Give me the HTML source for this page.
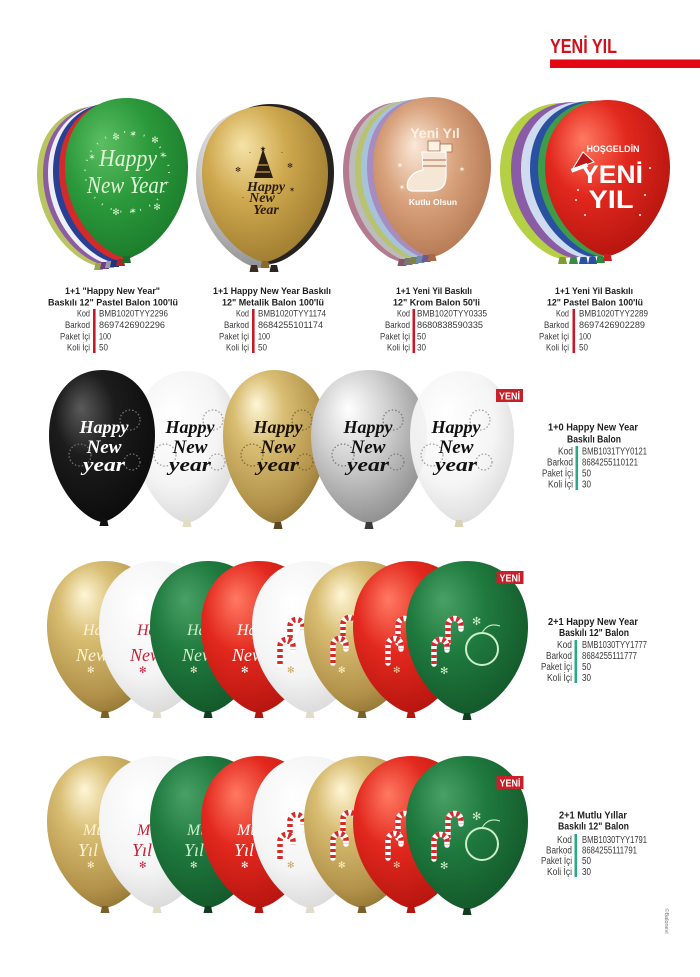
<!DOCTYPE html>
<html><head><meta charset="utf-8">
<style>
html,body{margin:0;padding:0;background:#fff;}
svg{display:block;}
.t{font-family:"Liberation Sans",sans-serif;font-weight:bold;font-size:9.5px;fill:#1e1e1e;}
.l{font-family:"Liberation Sans",sans-serif;font-size:9.5px;fill:#3a3a3a;}
.t2{font-family:"Liberation Sans",sans-serif;font-weight:bold;font-size:10px;fill:#1e1e1e;}
.l2{font-family:"Liberation Sans",sans-serif;font-size:10px;fill:#3a3a3a;}
.s{font-family:"Liberation Serif",serif;font-style:italic;}
.sb{font-family:"Liberation Serif",serif;font-style:italic;font-weight:bold;}
.bd{font-family:"Liberation Sans",sans-serif;font-weight:bold;}
.dj{font-family:"DejaVu Sans",sans-serif;}
</style></head><body>
<svg width="700" height="977" viewBox="0 0 700 977" xmlns="http://www.w3.org/2000/svg">
<defs>
<path id="b" d="M50,130 C32,128 0,98 0,56 C0,21 22,0 50,0 C78,0 100,21 100,56 C100,98 68,128 50,130 Z"/>
<path id="k" d="M-3,0 L3,0 L4.5,7 L-4.5,7 Z"/>
<g id="cane">
<path d="M0,26 L0,8 A6.5,6.5 0 0 1 13,8 L13,12" fill="none" stroke="#fff" stroke-width="5.5" stroke-linecap="round"/>
<path d="M0,26 L0,8 A6.5,6.5 0 0 1 13,8 L13,12" fill="none" stroke="#d42a2a" stroke-width="5.5" stroke-dasharray="3 3"/>
</g>
<radialGradient id="gG1" cx=".4" cy=".35" r=".7" fx=".3" fy=".28"><stop offset="0" stop-color="#5cbf62"/><stop offset=".5" stop-color="#2b993b"/><stop offset="1" stop-color="#1b7a2b"/></radialGradient>
<radialGradient id="gGD" cx=".4" cy=".35" r=".7" fx=".3" fy=".25"><stop offset="0" stop-color="#4aa066"/><stop offset=".45" stop-color="#1f7a3e"/><stop offset="1" stop-color="#135629"/></radialGradient>
<radialGradient id="gR" cx=".4" cy=".35" r=".7" fx=".3" fy=".25"><stop offset="0" stop-color="#ff7a62"/><stop offset=".45" stop-color="#e2281e"/><stop offset="1" stop-color="#b3140e"/></radialGradient>
<radialGradient id="gAu" cx=".4" cy=".35" r=".7" fx=".32" fy=".25"><stop offset="0" stop-color="#f6e3a8"/><stop offset=".45" stop-color="#cfa94f"/><stop offset="1" stop-color="#9c7a2e"/></radialGradient>
<radialGradient id="gAuC" cx=".4" cy=".35" r=".7" fx=".32" fy=".22"><stop offset="0" stop-color="#fff6d6"/><stop offset=".35" stop-color="#d8bd72"/><stop offset=".8" stop-color="#b2924a"/><stop offset="1" stop-color="#8f7232"/></radialGradient>
<radialGradient id="gW" cx=".42" cy=".38" r=".7" fx=".35" fy=".28"><stop offset="0" stop-color="#ffffff"/><stop offset=".6" stop-color="#f4f4f4"/><stop offset="1" stop-color="#d4d4d4"/></radialGradient>
<radialGradient id="gS" cx=".4" cy=".35" r=".7" fx=".32" fy=".25"><stop offset="0" stop-color="#ffffff"/><stop offset=".45" stop-color="#cfcfcf"/><stop offset="1" stop-color="#8a8a8a"/></radialGradient>
<radialGradient id="gK" cx=".4" cy=".35" r=".7" fx=".3" fy=".25"><stop offset="0" stop-color="#5a5a5a"/><stop offset=".4" stop-color="#1c1c1c"/><stop offset="1" stop-color="#0b0b0b"/></radialGradient>
<radialGradient id="gRo" cx=".45" cy=".45" r=".7" fx=".35" fy=".3"><stop offset="0" stop-color="#fbe8d8"/><stop offset=".45" stop-color="#d8a27c"/><stop offset="1" stop-color="#a86a45"/></radialGradient>
</defs>

<rect width="700" height="977" fill="#fff"/>

<!-- header -->
<text class="bd" x="550" y="53" font-size="20" fill="#d0101a" textLength="67" lengthAdjust="spacingAndGlyphs">YENİ YIL</text>
<rect x="550" y="59.5" width="150" height="8.5" fill="#e30613"/>

<!-- ROW 1 col1 green stack -->
<use href="#b" transform="translate(37,106) scale(1.23,1.23)" fill="#b9c462"/>
<use href="#b" transform="translate(43,105) scale(1.23,1.23)" fill="#8c5ca3"/>
<use href="#b" transform="translate(48,104) scale(1.23,1.23)" fill="#eeeef5"/>
<use href="#b" transform="translate(53,102.5) scale(1.23,1.23)" fill="#283f95"/>
<use href="#b" transform="translate(59,101) scale(1.23,1.23)" fill="#d22b2b"/>
<use href="#b" transform="translate(65,98) scale(1.23,1.23)" fill="url(#gG1)"/>
<use href="#k" x="98.5" y="263" fill="#9aa84a"/>
<use href="#k" x="104.5" y="262" fill="#6e3f88"/>
<use href="#k" x="109.5" y="261" fill="#9a9aaa"/>
<use href="#k" x="114.5" y="260" fill="#1f3380"/>
<use href="#k" x="120.5" y="259" fill="#b52020"/>
<use href="#k" x="126.5" y="256" fill="#1b6f28"/>
<ellipse cx="127" cy="172" rx="42" ry="40" fill="none" stroke="#cdebc0" stroke-width="2" stroke-dasharray="1 9"/>
<text class="s" x="128" y="166" font-size="24" fill="#e2f5d6" text-anchor="middle" textLength="58" lengthAdjust="spacingAndGlyphs">Happy</text>
<text class="s" x="127" y="193" font-size="24" fill="#e2f5d6" text-anchor="middle" textLength="80" lengthAdjust="spacingAndGlyphs">New Year</text>
<g class="dj" font-size="9" fill="#d6f0cc" text-anchor="middle">
<text x="116" y="140">✻</text><text x="133" y="137">✶</text><text x="155" y="143">✻</text>
<text x="163" y="158">✶</text><text x="157" y="210">✻</text><text x="116" y="215">✻</text><text x="92" y="160">✶</text><text x="133" y="214">✶</text>
</g>

<!-- col2 gold -->
<use href="#b" transform="translate(196,108) scale(1.26,1.23)" fill="url(#gS)"/>
<use href="#b" transform="translate(208,104) scale(1.26,1.23)" fill="#262220"/>
<use href="#b" transform="translate(202,106) scale(1.26,1.2)" fill="url(#gAu)"/>
<use href="#k" x="254" y="265" fill="#3a2c20"/>
<use href="#k" x="265" y="261" fill="#8a6a2a"/>
<use href="#k" x="274" y="265" fill="#2a2420"/>
<polygon points="263,149 254,178 273,178" fill="#2b1c10"/>
<line x1="258" y1="165" x2="268" y2="165" stroke="#cfa94f" stroke-width="1.2"/>
<line x1="256" y1="172" x2="270" y2="172" stroke="#cfa94f" stroke-width="1.2"/>
<text class="dj" x="263" y="151" font-size="7" fill="#2b1c10" text-anchor="middle">★</text>
<text class="sb" x="266" y="191" font-size="14" fill="#2b1c10" text-anchor="middle">Happy</text>
<text class="sb" x="262" y="202" font-size="14" fill="#2b1c10" text-anchor="middle">New</text>
<text class="sb" x="266" y="214" font-size="14" fill="#2b1c10" text-anchor="middle">Year</text>
<g class="dj" font-size="7" fill="#2b1c10" text-anchor="middle">
<text x="238" y="172">✻</text><text x="290" y="168">✻</text><text x="292" y="192">✶</text><text x="243" y="200">·</text><text x="250" y="155">·</text><text x="282" y="155">·</text>
</g>

<!-- col3 rose gold -->
<use href="#b" transform="translate(343,102) scale(1.18,1.23)" fill="#b47a90"/>
<use href="#b" transform="translate(349,101) scale(1.18,1.23)" fill="#bcbcbc"/>
<use href="#b" transform="translate(355,100) scale(1.18,1.23)" fill="#b9c270"/>
<use href="#b" transform="translate(361,99) scale(1.18,1.23)" fill="#a7c3dc"/>
<use href="#b" transform="translate(367,98) scale(1.18,1.23)" fill="#a68cbf"/>
<use href="#b" transform="translate(373,97) scale(1.18,1.23)" fill="url(#gRo)"/>
<use href="#k" x="402" y="259" fill="#8a5568"/>
<use href="#k" x="408" y="258" fill="#777"/>
<use href="#k" x="414" y="257" fill="#7c8440"/>
<use href="#k" x="420" y="256" fill="#6d8cab"/>
<use href="#k" x="426" y="255" fill="#6f5790"/>
<use href="#k" x="432" y="254" fill="#a86a45"/>
<text class="bd" x="435" y="138" font-size="14" fill="#fff5ea" text-anchor="middle" opacity=".9">Yeni Yıl</text>
<rect x="428" y="141" width="12" height="10" fill="#fff3e6" stroke="#a86a45" stroke-width=".8"/>
<rect x="440" y="144" width="12" height="8" fill="#fff3e6" stroke="#a86a45" stroke-width=".8"/>
<path d="M422,152 L446,152 L446,176 Q446,191 431,191 L413,191 Q405,191 408,181 Q412,172 423,170 Z" fill="#f6e6d6" stroke="#fff" stroke-width="1.2"/>
<line x1="423" y1="160" x2="446" y2="160" stroke="#a86a45" stroke-width="1"/>
<line x1="423" y1="166" x2="446" y2="166" stroke="#a86a45" stroke-width="1"/>
<text class="bd" x="433" y="205" font-size="8.5" fill="#fff" text-anchor="middle">Kutlu Olsun</text>
<g class="dj" font-size="8" fill="#fff3e6" text-anchor="middle"><text x="400" y="168">✶</text><text x="462" y="172">✶</text><text x="402" y="190">✶</text></g>

<!-- col4 red stack -->
<use href="#b" transform="translate(500,103) scale(1.25,1.2)" fill="#b6d045"/>
<use href="#b" transform="translate(511,102) scale(1.25,1.2)" fill="#8b5ca6"/>
<use href="#b" transform="translate(521,101.5) scale(1.25,1.2)" fill="#cfdcef"/>
<use href="#b" transform="translate(530,101) scale(1.25,1.2)" fill="#2a50a2"/>
<use href="#b" transform="translate(538,100.5) scale(1.25,1.2)" fill="#3d9b4a"/>
<use href="#b" transform="translate(545,100) scale(1.25,1.2)" fill="url(#gR)"/>
<use href="#k" x="562.5" y="257" fill="#7f9c30"/>
<use href="#k" x="573.5" y="257" fill="#3a8a48"/>
<use href="#k" x="583.5" y="257" fill="#2a50a2"/>
<use href="#k" x="592.5" y="257" fill="#2a50a2"/>
<use href="#k" x="600.5" y="256" fill="#2c8a3c"/>
<use href="#k" x="607.5" y="254" fill="#c81e1e"/>
<text class="bd" x="613" y="152" font-size="9" fill="#fff" text-anchor="middle" textLength="53" lengthAdjust="spacingAndGlyphs">HOŞGELDİN</text>
<text class="bd" x="612" y="183" font-size="25" fill="#fff" text-anchor="middle" textLength="62" lengthAdjust="spacingAndGlyphs">YENİ</text>
<text class="bd" x="611" y="208" font-size="25" fill="#fff" text-anchor="middle" textLength="45" lengthAdjust="spacingAndGlyphs">YIL</text>
<polygon points="572,170 583,152 594,162" fill="#b81818" stroke="#fff" stroke-width="1"/>
<rect x="571" y="166" width="17" height="4" fill="#fff" transform="rotate(-20 579 168)"/>
<g fill="#fff"><circle cx="578" cy="190" r="1"/><circle cx="645" cy="195" r="1"/><circle cx="585" cy="215" r="1"/><circle cx="640" cy="215" r="1"/><circle cx="650" cy="168" r="1"/><circle cx="576" cy="200" r="1"/></g>

<!-- row1 info -->
<text class="t" x="112.5" y="294" text-anchor="middle" textLength="95" lengthAdjust="spacingAndGlyphs">1+1 "Happy New Year"</text>
<text class="t" x="113" y="305.5" text-anchor="middle" textLength="130" lengthAdjust="spacingAndGlyphs">Baskılı 12" Pastel Balon 100'lü</text>
<rect x="93" y="309" width="2.6" height="44" fill="#c41a2a"/>
<text class="l" x="90" y="316.5" text-anchor="end" textLength="13" lengthAdjust="spacingAndGlyphs">Kod</text>
<text class="l" x="90" y="328" text-anchor="end" textLength="25" lengthAdjust="spacingAndGlyphs">Barkod</text>
<text class="l" x="90" y="339.3" text-anchor="end" textLength="30" lengthAdjust="spacingAndGlyphs">Paket İçi</text>
<text class="l" x="90" y="350.6" text-anchor="end" textLength="23" lengthAdjust="spacingAndGlyphs">Koli İçi</text>
<text class="l" x="99" y="316.5" textLength="69" lengthAdjust="spacingAndGlyphs">BMB1020TYY2296</text>
<text class="l" x="99" y="328" textLength="66" lengthAdjust="spacingAndGlyphs">8697426902296</text>
<text class="l" x="99" y="339.3" textLength="12" lengthAdjust="spacingAndGlyphs">100</text>
<text class="l" x="99" y="350.6" textLength="9" lengthAdjust="spacingAndGlyphs">50</text>

<text class="t" x="272" y="294" text-anchor="middle" textLength="118" lengthAdjust="spacingAndGlyphs">1+1 Happy New Year Baskılı</text>
<text class="t" x="273" y="305.5" text-anchor="middle" textLength="102" lengthAdjust="spacingAndGlyphs">12" Metalik Balon 100'lü</text>
<rect x="252" y="309" width="2.6" height="44" fill="#c41a2a"/>
<text class="l" x="249" y="316.5" text-anchor="end" textLength="13" lengthAdjust="spacingAndGlyphs">Kod</text>
<text class="l" x="249" y="328" text-anchor="end" textLength="25" lengthAdjust="spacingAndGlyphs">Barkod</text>
<text class="l" x="249" y="339.3" text-anchor="end" textLength="30" lengthAdjust="spacingAndGlyphs">Paket İçi</text>
<text class="l" x="249" y="350.6" text-anchor="end" textLength="23" lengthAdjust="spacingAndGlyphs">Koli İçi</text>
<text class="l" x="258" y="316.5" textLength="68" lengthAdjust="spacingAndGlyphs">BMB1020TYY1174</text>
<text class="l" x="258" y="328" textLength="65" lengthAdjust="spacingAndGlyphs">8684255101174</text>
<text class="l" x="258" y="339.3" textLength="12" lengthAdjust="spacingAndGlyphs">100</text>
<text class="l" x="258" y="350.6" textLength="9" lengthAdjust="spacingAndGlyphs">50</text>

<text class="t" x="434" y="294" text-anchor="middle" textLength="76" lengthAdjust="spacingAndGlyphs">1+1 Yeni Yil Baskılı</text>
<text class="t" x="436.5" y="305.5" text-anchor="middle" textLength="87" lengthAdjust="spacingAndGlyphs">12" Krom Balon 50'li</text>
<rect x="412.5" y="309" width="2.6" height="44" fill="#c41a2a"/>
<text class="l" x="410" y="316.5" text-anchor="end" textLength="13" lengthAdjust="spacingAndGlyphs">Kod</text>
<text class="l" x="410" y="328" text-anchor="end" textLength="25" lengthAdjust="spacingAndGlyphs">Barkod</text>
<text class="l" x="410" y="339.3" text-anchor="end" textLength="30" lengthAdjust="spacingAndGlyphs">Paket İçi</text>
<text class="l" x="410" y="350.6" text-anchor="end" textLength="23" lengthAdjust="spacingAndGlyphs">Koli İçi</text>
<text class="l" x="417" y="316.5" textLength="70" lengthAdjust="spacingAndGlyphs">BMB1020TYY0335</text>
<text class="l" x="417" y="328" textLength="66" lengthAdjust="spacingAndGlyphs">8680838590335</text>
<text class="l" x="417" y="339.3" textLength="9" lengthAdjust="spacingAndGlyphs">50</text>
<text class="l" x="417" y="350.6" textLength="9" lengthAdjust="spacingAndGlyphs">30</text>

<text class="t" x="594" y="294" text-anchor="middle" textLength="78" lengthAdjust="spacingAndGlyphs">1+1 Yeni Yil Baskılı</text>
<text class="t" x="595" y="305.5" text-anchor="middle" textLength="96" lengthAdjust="spacingAndGlyphs">12" Pastel Balon 100'lü</text>
<rect x="572.5" y="309" width="2.6" height="44" fill="#c41a2a"/>
<text class="l" x="569" y="316.5" text-anchor="end" textLength="13" lengthAdjust="spacingAndGlyphs">Kod</text>
<text class="l" x="569" y="328" text-anchor="end" textLength="25" lengthAdjust="spacingAndGlyphs">Barkod</text>
<text class="l" x="569" y="339.3" text-anchor="end" textLength="30" lengthAdjust="spacingAndGlyphs">Paket İçi</text>
<text class="l" x="569" y="350.6" text-anchor="end" textLength="23" lengthAdjust="spacingAndGlyphs">Koli İçi</text>
<text class="l" x="579" y="316.5" textLength="69" lengthAdjust="spacingAndGlyphs">BMB1020TYY2289</text>
<text class="l" x="579" y="328" textLength="66" lengthAdjust="spacingAndGlyphs">8697426902289</text>
<text class="l" x="579" y="339.3" textLength="12" lengthAdjust="spacingAndGlyphs">100</text>
<text class="l" x="579" y="350.6" textLength="9" lengthAdjust="spacingAndGlyphs">50</text>

<!-- ROW 2 -->
<use href="#b" transform="translate(135,371) scale(1.04,1.169)" fill="url(#gW)"/>
<use href="#k" x="187" y="520" fill="#e2dcc0"/>
<g fill="none" stroke="#999" stroke-width="1.2" stroke-dasharray="1.5 2"><circle cx="213" cy="420" r="10"/><circle cx="165" cy="455" r="11"/><circle cx="217" cy="462" r="8"/></g>
<text class="sb" x="190" y="433" font-size="18" fill="#111" text-anchor="middle">Happy</text>
<text class="sb" x="190" y="453" font-size="19" fill="#111" text-anchor="middle">New</text>
<text class="sb" x="190" y="471" font-size="19" fill="#111" text-anchor="middle" textLength="42" lengthAdjust="spacingAndGlyphs">year</text>

<use href="#b" transform="translate(49,370) scale(1.06,1.169)" fill="url(#gK)"/>
<use href="#k" x="104" y="519" fill="#111"/>
<g fill="none" stroke="#777" stroke-width="1.2" stroke-dasharray="1.5 2"><circle cx="130" cy="420" r="10"/><circle cx="80" cy="455" r="11"/><circle cx="132" cy="462" r="8"/></g>
<text class="sb" x="104" y="433" font-size="18" fill="#fff" text-anchor="middle">Happy</text>
<text class="sb" x="104" y="453" font-size="19" fill="#fff" text-anchor="middle">New</text>
<text class="sb" x="104" y="471" font-size="19" fill="#fff" text-anchor="middle" textLength="42" lengthAdjust="spacingAndGlyphs">year</text>

<use href="#b" transform="translate(223,370) scale(1.04,1.18)" fill="url(#gAuC)"/>
<use href="#k" x="278" y="522" fill="#5a4720"/>
<g fill="none" stroke="#7a6430" stroke-width="1.2" stroke-dasharray="1.5 2"><circle cx="302" cy="420" r="10"/><circle cx="252" cy="455" r="11"/><circle cx="305" cy="462" r="8"/></g>
<text class="sb" x="278" y="433" font-size="18" fill="#1a1206" text-anchor="middle">Happy</text>
<text class="sb" x="278" y="453" font-size="19" fill="#1a1206" text-anchor="middle">New</text>
<text class="sb" x="278" y="471" font-size="19" fill="#1a1206" text-anchor="middle" textLength="42" lengthAdjust="spacingAndGlyphs">year</text>

<use href="#b" transform="translate(311,370) scale(1.16,1.18)" fill="url(#gS)"/>
<use href="#k" x="369" y="522" fill="#3a3a3a"/>
<g fill="none" stroke="#777" stroke-width="1.2" stroke-dasharray="1.5 2"><circle cx="393" cy="420" r="10"/><circle cx="343" cy="455" r="11"/><circle cx="396" cy="462" r="8"/></g>
<text class="sb" x="368" y="433" font-size="18" fill="#111" text-anchor="middle">Happy</text>
<text class="sb" x="368" y="453" font-size="19" fill="#111" text-anchor="middle">New</text>
<text class="sb" x="368" y="471" font-size="19" fill="#111" text-anchor="middle" textLength="42" lengthAdjust="spacingAndGlyphs">year</text>

<use href="#b" transform="translate(410,371) scale(1.04,1.169)" fill="url(#gW)" opacity=".93"/>
<use href="#k" x="459" y="520" fill="#d9d2b3"/>
<g fill="none" stroke="#999" stroke-width="1.2" stroke-dasharray="1.5 2"><circle cx="480" cy="420" r="10"/><circle cx="432" cy="455" r="11"/><circle cx="484" cy="462" r="8"/></g>
<text class="sb" x="456" y="433" font-size="18" fill="#111" text-anchor="middle">Happy</text>
<text class="sb" x="456" y="453" font-size="19" fill="#111" text-anchor="middle">New</text>
<text class="sb" x="456" y="471" font-size="19" fill="#111" text-anchor="middle" textLength="42" lengthAdjust="spacingAndGlyphs">year</text>

<rect x="496" y="389" width="27" height="13" fill="#c8202a"/>
<text class="bd" x="509.5" y="399.5" font-size="10" fill="#fff" text-anchor="middle" textLength="21" lengthAdjust="spacingAndGlyphs">YENİ</text>

<!-- row2 info -->
<text class="t2" x="593" y="430.5" text-anchor="middle" textLength="90" lengthAdjust="spacingAndGlyphs">1+0 Happy New Year</text>
<text class="t2" x="594" y="442.5" text-anchor="middle" textLength="54" lengthAdjust="spacingAndGlyphs">Baskılı Balon</text>
<rect x="575.5" y="446" width="2.6" height="44" fill="#2aa88a"/>
<text class="l2" x="573" y="454.5" text-anchor="end" textLength="15" lengthAdjust="spacingAndGlyphs">Kod</text>
<text class="l2" x="573" y="465.5" text-anchor="end" textLength="26" lengthAdjust="spacingAndGlyphs">Barkod</text>
<text class="l2" x="573" y="476.5" text-anchor="end" textLength="31" lengthAdjust="spacingAndGlyphs">Paket İçi</text>
<text class="l2" x="573" y="487.5" text-anchor="end" textLength="25" lengthAdjust="spacingAndGlyphs">Koli İçi</text>
<text class="l2" x="582" y="454.5" textLength="65" lengthAdjust="spacingAndGlyphs">BMB1031TYY0121</text>
<text class="l2" x="582" y="465.5" textLength="56" lengthAdjust="spacingAndGlyphs">8684255110121</text>
<text class="l2" x="582" y="476.5" textLength="9" lengthAdjust="spacingAndGlyphs">50</text>
<text class="l2" x="582" y="487.5" textLength="9" lengthAdjust="spacingAndGlyphs">30</text>

<!-- ROW 3 -->
<use href="#b" transform="translate(47,561) scale(1.16,1.169)" fill="url(#gAuC)"/>
<use href="#k" x="105" y="711" fill="#7a6028"/>
<text class="s" x="83" y="635" font-size="16" fill="#fff3cf">Ha</text>
<text class="s" x="76" y="661" font-size="18" fill="#fff3cf">New</text>
<text class="dj" x="87" y="673" font-size="9" fill="#fff3cf">✻</text>

<use href="#b" transform="translate(99,561) scale(1.16,1.169)" fill="url(#gW)"/>
<use href="#k" x="157" y="711" fill="#e0dccb"/>
<text class="s" x="137" y="635" font-size="16" fill="#c8203a">Ha</text>
<text class="s" x="130" y="661" font-size="18" fill="#c8203a">New</text>
<text class="dj" x="139" y="673" font-size="9" fill="#c8203a">✻</text>

<use href="#b" transform="translate(150,561) scale(1.16,1.169)" fill="url(#gGD)"/>
<use href="#k" x="208" y="711" fill="#0f3d1e"/>
<text class="s" x="187" y="635" font-size="16" fill="#cdeec8">Ha</text>
<text class="s" x="182" y="661" font-size="18" fill="#cdeec8">New</text>
<text class="dj" x="190" y="673" font-size="9" fill="#f0e8c8">✻</text>

<use href="#b" transform="translate(201,561) scale(1.16,1.169)" fill="url(#gR)"/>
<use href="#k" x="259" y="711" fill="#b5150f"/>
<text class="s" x="237" y="635" font-size="16" fill="#fff">Ha</text>
<text class="s" x="232" y="661" font-size="18" fill="#fff">New</text>
<text class="dj" x="241" y="673" font-size="9" fill="#fff">✻</text>

<use href="#b" transform="translate(252,561) scale(1.16,1.169)" fill="url(#gW)"/>
<use href="#k" x="310" y="711" fill="#e0dccb"/>
<use href="#cane" x="290" y="618"/>
<use href="#cane" x="280" y="638"/>
<text class="dj" x="287" y="673" font-size="9" fill="#c9a860">✻</text>

<use href="#b" transform="translate(304,561) scale(1.16,1.169)" fill="url(#gAuC)"/>
<use href="#k" x="362" y="711" fill="#7a6028"/>
<use href="#cane" x="343" y="616"/>
<use href="#cane" x="333" y="637"/>
<text class="dj" x="338" y="673" font-size="9" fill="#fff3cf">✻</text>

<use href="#b" transform="translate(353,561) scale(1.16,1.169)" fill="url(#gR)"/>
<use href="#k" x="411" y="711" fill="#b5150f"/>
<use href="#cane" x="398" y="617"/>
<use href="#cane" x="388" y="637"/>
<text class="dj" x="393" y="673" font-size="9" fill="#f5c9a0">✻</text>

<use href="#b" transform="translate(406,561) scale(1.22,1.18)" fill="url(#gGD)"/>
<use href="#k" x="467" y="713" fill="#0f3d1e"/>
<use href="#cane" x="448" y="617"/>
<use href="#cane" x="434" y="638"/>
<circle cx="482" cy="649" r="16" fill="none" stroke="#cdeec8" stroke-width="2"/>
<path d="M482,633 Q488,622 500,626" fill="none" stroke="#cdeec8" stroke-width="1"/>
<text class="dj" x="472" y="625" font-size="11" fill="#cdeec8">✻</text>
<text class="dj" x="440" y="674" font-size="10" fill="#cdeec8">✻</text>

<rect x="496.5" y="571" width="27" height="13" fill="#c8202a"/>
<text class="bd" x="510" y="581.5" font-size="10" fill="#fff" text-anchor="middle" textLength="21" lengthAdjust="spacingAndGlyphs">YENİ</text>

<!-- row3 info -->
<text class="t2" x="593" y="625" text-anchor="middle" textLength="90" lengthAdjust="spacingAndGlyphs">2+1 Happy New Year</text>
<text class="t2" x="594" y="636" text-anchor="middle" textLength="70" lengthAdjust="spacingAndGlyphs">Baskılı 12" Balon</text>
<rect x="574.5" y="640" width="2.6" height="43" fill="#2aa88a"/>
<text class="l2" x="572" y="647.8" text-anchor="end" textLength="15" lengthAdjust="spacingAndGlyphs">Kod</text>
<text class="l2" x="572" y="658.8" text-anchor="end" textLength="26" lengthAdjust="spacingAndGlyphs">Barkod</text>
<text class="l2" x="572" y="669.8" text-anchor="end" textLength="31" lengthAdjust="spacingAndGlyphs">Paket İçi</text>
<text class="l2" x="572" y="680.8" text-anchor="end" textLength="25" lengthAdjust="spacingAndGlyphs">Koli İçi</text>
<text class="l2" x="582" y="647.8" textLength="65" lengthAdjust="spacingAndGlyphs">BMB1030TYY1777</text>
<text class="l2" x="582" y="658.8" textLength="55" lengthAdjust="spacingAndGlyphs">8684255111777</text>
<text class="l2" x="582" y="669.8" textLength="9" lengthAdjust="spacingAndGlyphs">50</text>
<text class="l2" x="582" y="680.8" textLength="9" lengthAdjust="spacingAndGlyphs">30</text>

<!-- ROW 4 -->
<use href="#b" transform="translate(47,756) scale(1.16,1.169)" fill="url(#gAuC)"/>
<use href="#k" x="105" y="906" fill="#7a6028"/>
<text class="s" x="83" y="835" font-size="16" fill="#fff3cf">Mu</text>
<text class="s" x="78" y="856" font-size="18" fill="#fff3cf">Yıl</text>
<text class="dj" x="87" y="868" font-size="9" fill="#fff3cf">✻</text>

<use href="#b" transform="translate(99,756) scale(1.16,1.169)" fill="url(#gW)"/>
<use href="#k" x="157" y="906" fill="#e0dccb"/>
<text class="s" x="137" y="835" font-size="16" fill="#c8203a">Mu</text>
<text class="s" x="132" y="856" font-size="18" fill="#c8203a">Yıl</text>
<text class="dj" x="139" y="868" font-size="9" fill="#c8203a">✻</text>

<use href="#b" transform="translate(150,756) scale(1.16,1.169)" fill="url(#gGD)"/>
<use href="#k" x="208" y="906" fill="#0f3d1e"/>
<text class="s" x="187" y="835" font-size="16" fill="#cdeec8">Mu</text>
<text class="s" x="184" y="856" font-size="18" fill="#cdeec8">Yıl</text>
<text class="dj" x="190" y="868" font-size="9" fill="#f0e8c8">✻</text>

<use href="#b" transform="translate(201,756) scale(1.16,1.169)" fill="url(#gR)"/>
<use href="#k" x="259" y="906" fill="#b5150f"/>
<text class="s" x="237" y="835" font-size="16" fill="#fff">Mu</text>
<text class="s" x="234" y="856" font-size="18" fill="#fff">Yıl</text>
<text class="dj" x="241" y="868" font-size="9" fill="#fff">✻</text>

<use href="#b" transform="translate(252,756) scale(1.16,1.169)" fill="url(#gW)"/>
<use href="#k" x="310" y="906" fill="#e0dccb"/>
<use href="#cane" x="290" y="813"/>
<use href="#cane" x="280" y="833"/>
<text class="dj" x="287" y="868" font-size="9" fill="#c9a860">✻</text>

<use href="#b" transform="translate(304,756) scale(1.16,1.169)" fill="url(#gAuC)"/>
<use href="#k" x="362" y="906" fill="#7a6028"/>
<use href="#cane" x="343" y="811"/>
<use href="#cane" x="333" y="832"/>
<text class="dj" x="338" y="868" font-size="9" fill="#fff3cf">✻</text>

<use href="#b" transform="translate(353,756) scale(1.16,1.169)" fill="url(#gR)"/>
<use href="#k" x="411" y="906" fill="#b5150f"/>
<use href="#cane" x="398" y="812"/>
<use href="#cane" x="388" y="832"/>
<text class="dj" x="393" y="868" font-size="9" fill="#f5c9a0">✻</text>

<use href="#b" transform="translate(406,756) scale(1.22,1.18)" fill="url(#gGD)"/>
<use href="#k" x="467" y="908" fill="#0f3d1e"/>
<use href="#cane" x="448" y="812"/>
<use href="#cane" x="434" y="833"/>
<circle cx="482" cy="844" r="16" fill="none" stroke="#cdeec8" stroke-width="2"/>
<path d="M482,828 Q488,817 500,821" fill="none" stroke="#cdeec8" stroke-width="1"/>
<text class="dj" x="472" y="820" font-size="11" fill="#cdeec8">✻</text>
<text class="dj" x="440" y="869" font-size="10" fill="#cdeec8">✻</text>

<rect x="496.5" y="776" width="27" height="13" fill="#c8202a"/>
<text class="bd" x="510" y="786.5" font-size="10" fill="#fff" text-anchor="middle" textLength="21" lengthAdjust="spacingAndGlyphs">YENİ</text>

<!-- row4 info -->
<text class="t2" x="593" y="818.5" text-anchor="middle" textLength="68" lengthAdjust="spacingAndGlyphs">2+1 Mutlu Yıllar</text>
<text class="t2" x="593.5" y="829.5" text-anchor="middle" textLength="71" lengthAdjust="spacingAndGlyphs">Baskılı 12" Balon</text>
<rect x="574.5" y="834" width="2.6" height="43" fill="#2aa88a"/>
<text class="l2" x="572" y="842.8" text-anchor="end" textLength="15" lengthAdjust="spacingAndGlyphs">Kod</text>
<text class="l2" x="572" y="853.5" text-anchor="end" textLength="26" lengthAdjust="spacingAndGlyphs">Barkod</text>
<text class="l2" x="572" y="864.2" text-anchor="end" textLength="31" lengthAdjust="spacingAndGlyphs">Paket İçi</text>
<text class="l2" x="572" y="874.8" text-anchor="end" textLength="25" lengthAdjust="spacingAndGlyphs">Koli İçi</text>
<text class="l2" x="582" y="842.8" textLength="65" lengthAdjust="spacingAndGlyphs">BMB1030TYY1791</text>
<text class="l2" x="582" y="853.5" textLength="55" lengthAdjust="spacingAndGlyphs">8684255111791</text>
<text class="l2" x="582" y="864.2" textLength="9" lengthAdjust="spacingAndGlyphs">50</text>
<text class="l2" x="582" y="874.8" textLength="9" lengthAdjust="spacingAndGlyphs">30</text>

<text x="665" y="921" font-family="Liberation Sans, sans-serif" font-size="5.5" fill="#777" text-anchor="middle" transform="rotate(90 665 921)">©Balonevi</text>
</svg>
</body></html>
